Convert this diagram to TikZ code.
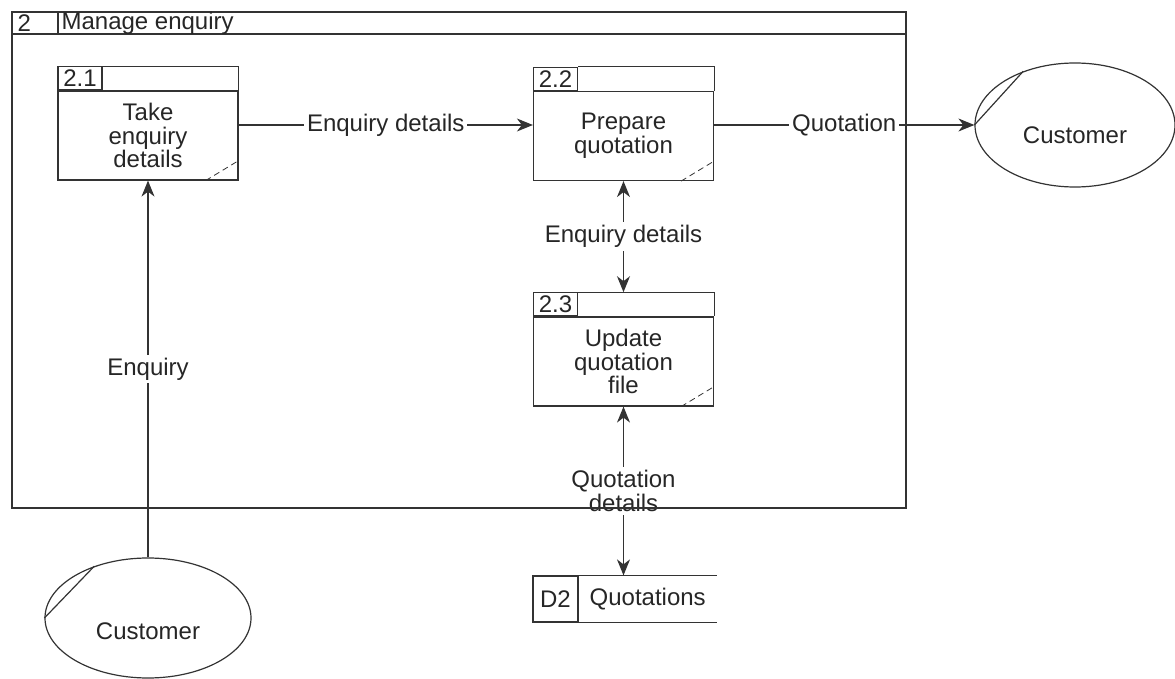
\documentclass[tikz,border=0pt]{standalone}
\usepackage{fontspec}
\setmainfont{Liberation Sans}
\usetikzlibrary{arrows.meta,shapes.geometric,positioning}
\tikzset{>={Stealth[length=8pt,width=6.5pt,inset=2.5pt]},
  every node/.style={font=\fontsize{12}{11.8}\selectfont,text=black!85},
  proc/.style={draw,minimum width=90pt,minimum height=44.5pt,align=center,inner sep=0pt},
  procid/.style={draw,minimum width=22pt,minimum height=11.5pt,inner sep=1pt,anchor=south west},
  ext/.style={draw,ellipse,minimum width=100pt,minimum height=62pt,inner sep=0pt},
  store/.style={minimum height=23pt,inner sep=0pt},
  lbl/.style={fill=white,inner sep=1.5pt,align=center},
  fold/.style={densely dashed,line width=0.4pt}}

\begin{document}
\begin{tikzpicture}[x=0.5pt,y=-0.5pt,line width=0.6pt,color=black!80]
              \useasboundingbox (0,0) rectangle (1175,679);

              % processes
              \node[proc] (p21) at (148,135.5) {Take\\enquiry\\details};
              \node[procid] (p21id) at (p21.north west) {2.1};
              \draw (p21id.north east) -| (p21.north east);
              \draw[fold] (p21.south east) ++(-33,0) -- ++(33,-20);

              \node[proc] (p22) at (623.5,136) {Prepare\\quotation};
              \node[procid] (p22id) at (p22.north west) {2.2};
              \draw (p22id.north east) -| (p22.north east);
              \draw[fold] (p22.south east) ++(-33,0) -- ++(33,-20);

              \node[proc] (p23) at (623.5,361.5) {Update\\quotation\\file};
              \node[procid] (p23id) at (p23.north west) {2.3};
              \draw (p23id.north east) -| (p23.north east);
              \draw[fold] (p23.south east) ++(-33,0) -- ++(33,-20);

              % external entities
              \node[ext] (cust1) at (1075,125) {\raisebox{-9.5pt}[0pt][0pt]{Customer}};
              \draw (cust1.west) -- (cust1.134);
              \node[ext,minimum width=103pt,minimum height=60pt] (cust2) at (148,618) {\raisebox{-11pt}[0pt][0pt]{Customer}};
              \draw (cust2.west) -- (cust2.136);

              % data store
              \node[store,draw,minimum width=22.5pt] (d2) at (555.5,599) {D2};
              \node[store,minimum width=68.5pt,right=0pt of d2] (d2name) {Quotations};
              \draw (d2name.north west) -- (d2name.north east)
                    (d2name.south west) -- (d2name.south east);

              % flows
              \draw[->] (p21.east |- cust1.west) -- node[lbl] {Enquiry details} (p22.west |- cust1.west);
              \draw[->] (p22.east |- cust1.west) -- node[lbl] {Quotation} (cust1.west);
              \draw[<->] (p22.south) -- node[lbl] {Enquiry details} (p22.south |- p23id.north);
              \draw[<->] (p23.south) -- node[lbl] {Quotation\\details} (p23.south |- d2name.north);
              \path (cust2) edge[->] node[lbl] {Enquiry} (p21);

              % boundary
              \draw (12,12) rectangle (906,508);
              \draw (12,34) -- (906,34) (58,12) -- (58,34);
              \node[anchor=west,inner sep=1.5pt] (fnum) at (14,23) {2};
              \node[anchor=west,inner sep=1.5pt] (ftitle) at (58,23) {Manage enquiry};
            \end{tikzpicture}
\end{document}
